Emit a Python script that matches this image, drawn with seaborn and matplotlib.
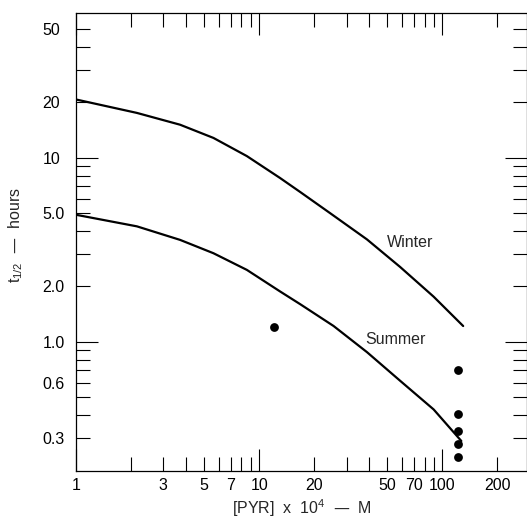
import matplotlib
matplotlib.use("Agg")
import matplotlib.pyplot as plt
import seaborn as sns

# values
winter_x = [1, 2.15, 3.7, 5.63, 8.57, 13.0, 16.8, 24.4, 38.8, 58.9, 89.7, 130]
winter_y = [20.7, 17.5, 15.1, 12.8, 10.2, 7.76, 6.5, 5.0, 3.6, 2.55, 1.76, 1.22]
summer_x = [1, 2.15, 3.7, 5.63, 8.57, 13.0, 16.8, 25.5, 38.8, 58.9, 89.7, 127]
summer_y = [4.9, 4.24, 3.58, 3.03, 2.46, 1.88, 1.6, 1.22, 0.88, 0.615, 0.43, 0.29]
obs_x = [12.0, 122, 122, 122, 122, 122]
obs_y = [1.21, 0.70, 0.406, 0.328, 0.279, 0.236]

x_major = [1, 10, 100]
x_major_labels = ['1', '10', '100']
x_minor = [2, 3, 4, 5, 6, 7, 8, 9, 20, 30, 40, 50, 60, 70, 80, 90, 200]
x_minor_labels = ['', '3', '', '5', '', '7', '', '', '20', '', '', '50', '', '70', '', '', '200']
y_major = [1, 10]
y_major_labels = ['1.0', '10']
y_minor = [0.3, 0.4, 0.5, 0.6, 0.7, 0.8, 0.9, 2, 3, 4, 5, 6, 7, 8, 9, 20, 30, 40, 50]
y_minor_labels = ['0.3', '', '', '0.6', '', '', '', '2.0', '', '', '5.0', '', '', '', '', '20', '', '', '50']

sns.set_theme(style='ticks')
plt.rcParams['font.family'] = ['Liberation Sans', 'DejaVu Sans']
plt.rcParams['mathtext.default'] = 'regular'

fig = plt.figure(figsize=(5.27, 5.26), dpi=100)
ax = fig.add_axes([0.1442, 0.1051, 0.8558, 0.8702])

sns.lineplot(x=winter_x, y=winter_y, ax=ax, color='black', lw=1.6, estimator=None, sort=False)
sns.lineplot(x=summer_x, y=summer_y, ax=ax, color='black', lw=1.6, estimator=None, sort=False)
sns.scatterplot(x=obs_x, y=obs_y, ax=ax, color='black', s=40, edgecolor='black', linewidth=0)

ax.set_xscale('log')
ax.set_yscale('log')
ax.set_xlim(1, 290)
ax.set_ylim(0.2, 61)

ax.set_xticks(x_major, labels=x_major_labels)
ax.set_xticks(x_minor, labels=x_minor_labels, minor=True)
ax.set_yticks(y_major, labels=y_major_labels)
ax.set_yticks(y_minor, labels=y_minor_labels, minor=True)

ax.tick_params(which='both', direction='in', top=True, right=True, width=0.8,
               labelsize=11.5, colors='black')
ax.tick_params(which='major', length=16)
ax.tick_params(which='minor', length=10)
ax.tick_params(axis='x', which='both', pad=5)
ax.tick_params(axis='y', which='both', pad=24)
for lab in ax.get_yticklabels(which='both'):
    lab.set_horizontalalignment('left')

for sp in ax.spines.values():
    sp.set_linewidth(0.9)
    sp.set_color('black')

ax.text(66.8, 3.45, 'Winter', fontsize=11.5, ha='center', va='center')
ax.text(55.4, 1.025, 'Summer', fontsize=11.5, ha='center', va='center')

ax.set_xlabel(r'[PYR]  x  10$^4$  —  M', fontsize=11.5)
ax.set_ylabel(r'$t_{1/2}$  —  hours', fontsize=11.5)
ax.xaxis.set_label_coords(0.5, -0.057)
ax.yaxis.set_label_coords(-0.112, 0.515)

fig.savefig('out.png', dpi=100)
